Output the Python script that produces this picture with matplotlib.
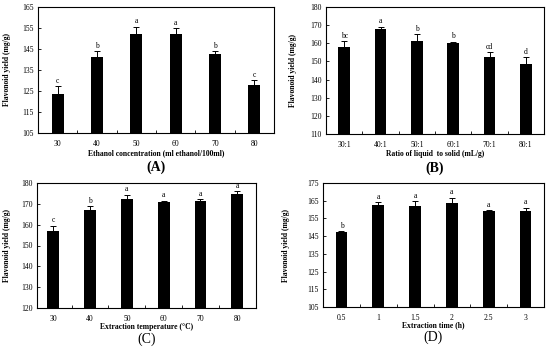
import matplotlib
matplotlib.use("Agg")
import matplotlib.pyplot as plt
import numpy as np

plt.rcParams['font.family'] = ['Liberation Serif', 'DejaVu Serif']

# Panel A
a_cats = ['30', '40', '50', '60', '70', '80']
a_vals = [123.6, 141.0, 152.3, 152.3, 142.6, 127.9]
a_err = [3.7, 3.0, 3.2, 2.5, 1.3, 2.2]
a_lets = ['c', 'b', 'a', 'a', 'b', 'c']
a_yticks = [105, 115, 125, 135, 145, 155, 165]

# Panel B
b_cats = ['30:1', '40:1', '50:1', '60:1', '70:1', '80:1']
b_vals = [158.0, 167.8, 161.3, 160.0, 152.4, 148.7]
b_err = [3.0, 1.3, 3.7, 0.9, 2.7, 3.5]
b_lets = ['bc', 'a', 'b', 'b', 'cd', 'd']
b_yticks = [110, 120, 130, 140, 150, 160, 170, 180]

# Panel C
c_cats = ['30', '40', '50', '60', '70', '80']
c_vals = [157.1, 166.9, 172.3, 171.1, 171.6, 174.7]
c_err = [2.4, 2.0, 2.1, 0.5, 0.6, 1.3]
c_lets = ['c', 'b', 'a', 'a', 'a', 'a']
c_yticks = [120, 130, 140, 150, 160, 170, 180]

# Panel D
d_cats = ['0.5', '1', '1.5', '2', '2.5', '3']
d_vals = [147.3, 162.4, 161.8, 163.7, 159.2, 159.3]
d_err = [0.4, 1.8, 2.8, 3.0, 0.5, 1.7]
d_lets = ['b', 'a', 'a', 'a', 'a', 'a']
d_yticks = [105, 115, 125, 135, 145, 155, 165, 175]

W, H = 550, 351
fig = plt.figure(figsize=(5.5, 3.51), dpi=100)

def box(l, r, t, b):
    return [l / W, (H - b) / H, (r - l) / W, (b - t) / H]

# rect, cats, vals, err, letters, yticks, xlabel, panel label, weight, bar width, xlim,
# xlabel y px, panel label y px, ylabel x px
panels = [
    (box(38, 274, 7, 133), a_cats, a_vals, a_err, a_lets, a_yticks,
     'Ethanol concentration (ml ethanol/100ml)', '(A)', 'bold', 0.30, (-0.5, 5.5), 153, 167, 7),
    (box(326, 544, 7, 134), b_cats, b_vals, b_err, b_lets, b_yticks,
     'Ratio of liquid  to solid (mL/g)', '(B)', 'bold', 0.33, (-0.5, 5.5), 154, 168, 293),
    (box(37, 256, 183, 308), c_cats, c_vals, c_err, c_lets, c_yticks,
     'Extraction temperature (°C)', '(C)', 'normal', 0.32, (-0.44, 5.51), 327, 339, 7),
    (box(323, 544, 183, 307), d_cats, d_vals, d_err, d_lets, d_yticks,
     'Extraction time (h)', '(D)', 'normal', 0.32, (-0.5, 5.5), 325, 337, 286),
]

for rect, cats, vals, err, lets, yt, xl, plab, pw, bw, xlim, xly, py, ylx in panels:
    ax = fig.add_axes(rect)
    x = np.arange(len(cats))
    ax.bar(x, vals, width=bw, color='black', zorder=2)
    ax.errorbar(x, vals, yerr=[np.zeros(len(err)), err], fmt='none',
                ecolor='black', elinewidth=0.7, capsize=2.0, capthick=0.7, zorder=3)
    span = yt[-1] - yt[0]
    for xi, v, e, l in zip(x, vals, err, lets):
        ax.text(xi, v + e + span * 0.012, l, ha='center', va='bottom', fontsize=5.5)
    ax.set_ylim(yt[0], yt[-1])
    ax.set_yticks(yt)
    ax.set_xlim(*xlim)
    ax.set_xticks(x)
    ax.set_xticklabels(cats)
    ax.set_xticks(x[:-1] + 0.5, minor=True)
    ax.tick_params(axis='both', which='major', direction='in', labelsize=5.5,
                   length=2, width=0.6, pad=3)
    ax.tick_params(axis='x', which='major', length=0, pad=5)
    ax.tick_params(axis='x', which='minor', direction='in', length=2, width=0.6)
    for s in ax.spines.values():
        s.set_linewidth(0.8)
    cx = rect[0] + rect[2] / 2
    cy = rect[1] + rect[3] / 2
    fig.text(cx, 1 - xly / H, xl, ha='center', va='center', fontsize=5.5, fontweight='bold')
    fig.text(ylx / W, cy, 'Flavonoid yield (mg/g)', ha='center', va='center',
             rotation=90, fontsize=5.5, fontweight='bold')
    fig.text(cx, 1 - py / H, plab, ha='center', va='center', fontsize=10, fontweight=pw)

fig.savefig('out.png', dpi=100)
